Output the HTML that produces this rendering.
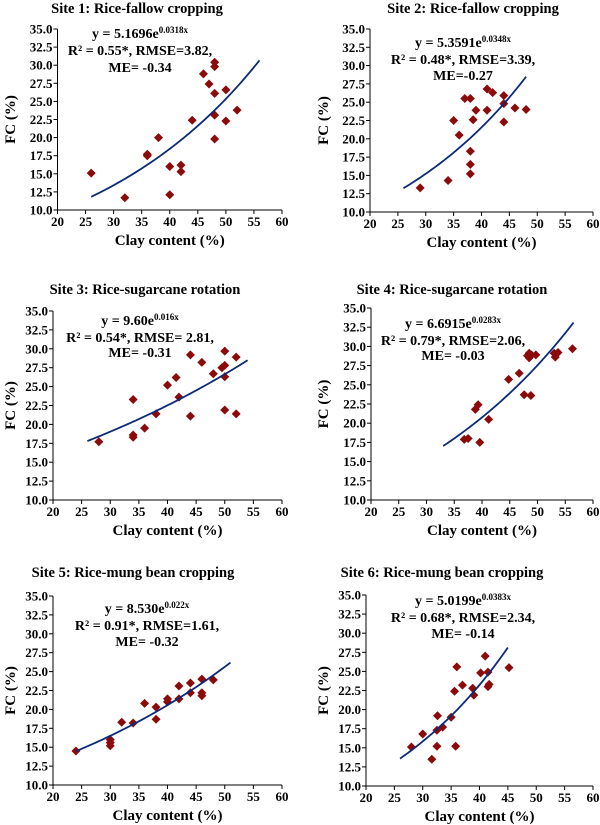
<!DOCTYPE html>
<html><head><meta charset="utf-8"><style>
html,body{margin:0;padding:0;background:#fff;}
svg{display:block;font-family:"Liberation Serif",serif;font-weight:bold;}
</style></head><body>
<svg id="chart" width="600" height="825" viewBox="0 0 600 825" xmlns="http://www.w3.org/2000/svg"></svg>
<script>
const xTicks=[20,25,30,35,40,45,50,55,60];
const yTicks=[10,12.5,15,17.5,20,22.5,25,27.5,30,32.5,35];
const titles=["Site 1: Rice-fallow cropping","Site 2: Rice-fallow cropping","Site 3: Rice-sugarcane rotation","Site 4: Rice-sugarcane rotation","Site 5: Rice-mung bean cropping","Site 6: Rice-mung bean cropping"];
const fitA=[5.1696,5.3591,11.5,6.6915,8.530,5.0199];
const fitB=[0.0318,0.0348,0.0168,0.0283,0.022,0.0383];
const fitALabel=["5.1696","5.3591","9.60","6.6915","8.530","5.0199"];
const fitBLabel=["0.0318x","0.0348x","0.016x","0.0283x","0.022x","0.0383x"];
const fitRange=[[26,56],[26,48],[26,54],[33,56.5],[24,51],[26,45]];
const statLine2=["R² = 0.55*, RMSE=3.82,","R² = 0.48*, RMSE=3.39,","R² = 0.54*, RMSE= 2.81,","R² = 0.79*, RMSE=2.06,","R² = 0.91*, RMSE=1.61,","R² = 0.68*, RMSE=2.34,"];
const statLine3=["ME= -0.34","ME=-0.27","ME= -0.31","ME= -0.03","ME= -0.32","ME= -0.14"];
const clay1=[26,32,36,36,38,40,40,42,42,44,46,47,48,48,48,48,48,50,50,52];
const fc1=[15.1,11.7,17.5,17.7,20,16,12.1,16.2,15.3,22.4,28.8,27.4,30.4,29.8,26.1,23.1,19.8,26.6,22.3,23.8];
const clay2=[29,34,35,36,37,38,38,38,38,38.5,39,41,41,42,44,44,44,46,48];
const fc2=[13.3,14.3,22.5,20.5,25.5,25.5,18.3,16.5,15.2,22.6,23.9,26.8,23.9,26.3,25.9,24.8,22.3,24.2,24];
const clay3=[28,34,34,34,36,38,40,41.5,42,44,44,46,48,49.5,50,50,50,50,52,52];
const fc3=[17.7,23.3,18.6,18.3,19.5,21.4,25.2,26.2,23.6,29.2,21.1,28.2,26.7,27.5,29.7,27.8,26.3,21.9,28.9,21.4];
const clay4=[36.8,37.5,38.8,39.3,39.6,41.2,44.8,46.7,47.6,48.2,48.5,48.5,48.8,48.9,49.7,53,53.2,53.7,56.3];
const fc4=[17.9,18,21.8,22.4,17.5,20.5,25.7,26.5,23.7,28.8,29.1,28.5,23.6,28.9,28.9,29.1,28.6,29.2,29.7];
const clay5=[24,30,30,30,32,34,36,38,38,40,40,42,42,44,44,46,46,46,48];
const fc5=[14.5,16,15.6,15.2,18.3,18.2,20.8,20.3,18.7,21.4,21,23.1,21.4,23.5,22.2,24,22.2,21.8,23.9];
const clay6=[28,30,31.6,32.5,32.5,32.6,33.5,35,35.6,35.8,36,37,38.8,39,40.2,41,41.5,41.5,41.7,45.2];
const fc6=[15.1,16.8,13.5,15.2,17.3,19.2,17.7,19,22.4,15.2,25.6,23.2,22.8,21.9,24.8,27,24.9,23,23.3,25.5];
const clays=[clay1,clay2,clay3,clay4,clay5,clay6];
const fcs=[fc1,fc2,fc3,fc4,fc5,fc6];

const layout=[
 {x0:57.5,x1:282,y0:210,y1:29,ty:13,tx:137,ax:140,ay:[38,55,72],yt:10},
 {x0:370,x1:593,y0:212,y1:29,ty:13,tx:473,ax:463,ay:[47,64,80],yt:323},
 {x0:53,x1:282,y0:500,y1:311,ty:294,tx:145,ax:140,ay:[325,342,357],yt:10},
 {x0:371,x1:593,y0:500,y1:308,ty:294,tx:452,ax:453,ay:[328,345,360],yt:323},
 {x0:53,x1:282,y0:785,y1:596,ty:577,tx:133,ax:147,ay:[613,630,646],yt:10},
 {x0:366,x1:593,y0:786,y1:595,ty:577,tx:442,ax:463,ay:[605,622,638],yt:323}
];
const NS="http://www.w3.org/2000/svg";
const svg=document.getElementById('chart');
function mk(tag,attrs,parent){const e=document.createElementNS(NS,tag);for(const k in attrs)e.setAttribute(k,attrs[k]);(parent||svg).appendChild(e);return e;}

layout.forEach((L,i)=>{
  const g=mk('g',{});
  
  
  const sx=v=>L.x0+(v-20)/40*(L.x1-L.x0);
  const sy=v=>L.y0-(v-10)/25*(L.y0-L.y1);
  const t=mk('text',{x:L.tx,y:L.ty,'text-anchor':'middle','font-size':14.5},g);
  t.textContent=titles[i];
  
  
  const ax=mk('path',{d:`M${L.x0},${L.y1}V${L.y0}H${L.x1}`,stroke:'#000','stroke-width':1,fill:'none'},g);
  
  
  yTicks.forEach(v=>{
    mk('line',{x1:L.x0-4,x2:L.x0,y1:sy(v),y2:sy(v),stroke:'#000'},g);
    const tl=mk('text',{x:L.x0-5,y:sy(v)+4.5,'text-anchor':'end','font-size':13},g);
    tl.textContent=v.toFixed(1);
    
    
  });
  xTicks.forEach(v=>{
    mk('line',{x1:sx(v),x2:sx(v),y1:L.y0,y2:L.y0+4,stroke:'#000'},g);
    const tl=mk('text',{x:sx(v),y:L.y0+16,'text-anchor':'middle','font-size':13},g);
    tl.textContent=v;
    
    
  });
  const xt=mk('text',{x:(L.x0+L.x1)/2,y:L.y0+35,'text-anchor':'middle','font-size':15},g);
  xt.textContent='Clay content (%)';
  
  
  const cy=(L.y0+L.y1)/2;
  const yt=mk('text',{x:L.yt+5,y:cy,'text-anchor':'middle','font-size':15,transform:`rotate(-90 ${L.yt+5} ${cy})`},g);
  yt.textContent='FC (%)';
  
  
  clays[i].forEach((c,j)=>{
    const px=sx(c),py=sy(fcs[i][j]);
    const p=mk('path',{d:`M${px},${py-4.5}L${px+4.5},${py}L${px},${py+4.5}L${px-4.5},${py}Z`,fill:'#8b0a0a'},g);
    
    
  });
  let d='';const [a,b]=fitRange[i];
  for(let k=0;k<=60;k++){const xv=a+(b-a)*k/60;const yv=fitA[i]*Math.exp(fitB[i]*xv);d+=(k?'L':'M')+sx(xv).toFixed(2)+','+sy(yv).toFixed(2);}
  const c=mk('path',{d:d,stroke:'#0b2a78','stroke-width':1.8,fill:'none'},g);
  
  
  const e1=mk('text',{x:L.ax,y:L.ay[0],'text-anchor':'middle','font-size':14},g);
  
  
  const s1=mk('tspan',{},e1);s1.textContent='y = '+fitALabel[i]+'e';
  const s2=mk('tspan',{'font-size':9,dy:-5},e1);s2.textContent=fitBLabel[i];
  const e2=mk('text',{x:L.ax,y:L.ay[1],'text-anchor':'middle','font-size':14},g);
  e2.textContent=statLine2[i];
  
  
  const e3=mk('text',{x:L.ax,y:L.ay[2],'text-anchor':'middle','font-size':14},g);
  e3.textContent=statLine3[i];
  
  
});
</script>
</body></html>
